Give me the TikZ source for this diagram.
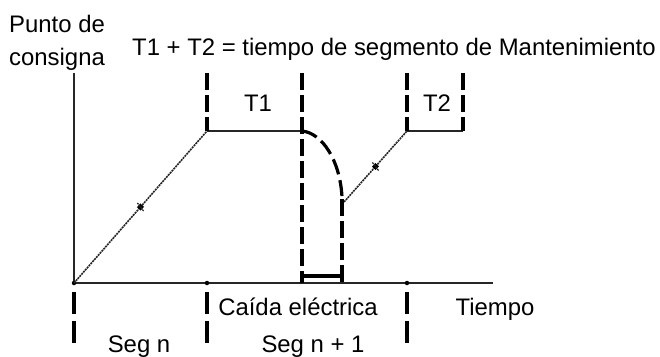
\documentclass[tikz,border=0pt]{standalone}
\usepackage{fontspec}
\setmainfont{Liberation Sans}
\usetikzlibrary{decorations.markings}
\tikzset{
  lbl/.style={inner sep=0pt, font=\fontsize{23.9}{28}\selectfont},
  axisline/.style={line width=2pt, black!85},
  plateau/.style={line width=2.3pt, black!85},
  thickdash/.style={line width=4pt, dash pattern=on 17pt off 5pt},
  tickdash/.style={line width=4pt, dash pattern=on 22pt off 7pt},
  curvedash/.style={line width=3.2pt, dash pattern=on 16pt off 6pt},
  ramp/.style={line width=1.6pt, black!85, dash pattern=on 2pt off 0.8pt},
  rampmark/.style={postaction={decorate, decoration={markings,
     mark=at position #1 with {\fill[black] (-2.5pt,-2.5pt) rectangle (2.5pt,2.5pt);
       \draw[line width=1.2pt] (-1pt,-5pt) -- (1pt,5pt);}}}},
  dotmark/.style={circle, fill=black, inner sep=0pt, minimum size=4.5pt}
}
\begin{document}
\begin{tikzpicture}[x=1pt,y=-1pt]
\useasboundingbox (0,0) rectangle (660,356);
% coordinates
\coordinate (O) at (74,283);
\coordinate (Ytop) at (74,73);
\coordinate (Xend) at (493,283);
\coordinate (A) at (207,131);
\coordinate (B) at (302,131);
\coordinate (C) at (342,197);
\coordinate (D) at (344,202);
\coordinate (E) at (407,131);
\coordinate (F) at (463,131);
% axes
\draw[axisline] (Ytop) -- (O) -- (Xend);
\node[dotmark] (d0) at (O) {};
\node[dotmark] (d1) at (207,283) {};
\node[dotmark] (d2) at (407,283) {};
% ramps
\draw[ramp, rampmark=0.5] (O) -- (A);
\draw[ramp, rampmark=0.5] (D) -- (E);
% plateaus
\draw[plateau] (A) -- (B);
\draw[plateau] (E) -- (F);
% upper dashed verticals
\draw[thickdash] (207,73) -- (A);
\draw[thickdash] (302,73) -- (302,283);
\draw[thickdash] (407,73) -- (E);
\draw[thickdash] (463,73) -- (F);
% power-fail curve
\draw[curvedash] (B) .. controls (322,133) and (340,160) .. (C);
\draw[thickdash] (342,199) -- (342,283);
\draw[line width=4pt] (302,276) -- (342,276);
% lower ticks
\draw[tickdash] (74,292) -- (74,343);
\draw[tickdash] (207,292) -- (207,343);
\draw[tickdash] (407,292) -- (407,343);
% labels
\node[lbl, anchor=base west] (py1) at (9,32) {Punto de};
\node[lbl, anchor=base west] (py2) at (9,65) {consigna};
\node[lbl, anchor=base west] (title) at (132,55) {T1 + T2 = tiempo de segmento de Mantenimiento};
\node[lbl, anchor=base] (t1) at (258,111) {T1};
\node[lbl, anchor=base] (t2) at (437,111) {T2};
\node[lbl, anchor=base] (caida) at (298,315) {Caída eléctrica};
\node[lbl, anchor=base] (tiempo) at (495,315) {Tiempo};
\node[lbl, anchor=base] (segn) at (139,352) {Seg n};
\node[lbl, anchor=base] (segn1) at (313,352) {Seg n + 1};
\end{tikzpicture}
\end{document}
